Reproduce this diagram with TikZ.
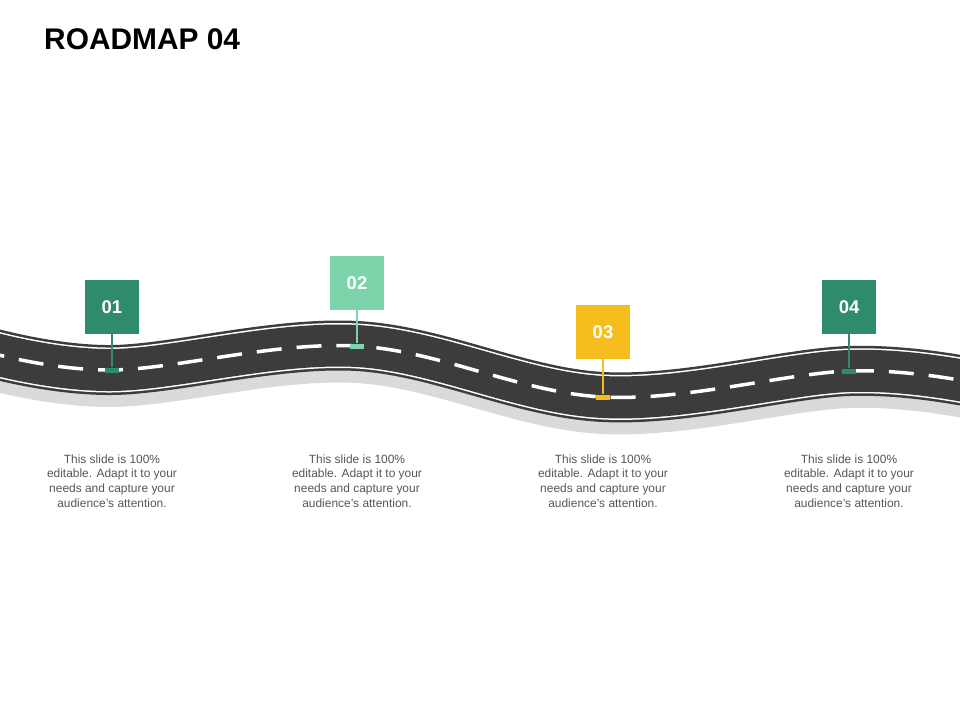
\documentclass[tikz,border=0pt]{standalone}
\usepackage{fontspec}
\setmainfont{Liberation Sans}
\usetikzlibrary{positioning}
\definecolor{darkgreen}{RGB}{46,139,110}
\definecolor{lightgreen}{RGB}{125,211,170}
\definecolor{signyellow}{RGB}{245,190,30}
\definecolor{asphalt}{RGB}{60,60,60}
\definecolor{shadowgray}{RGB}{218,218,218}
\definecolor{textgray}{RGB}{85,85,85}
\begin{document}
\begin{tikzpicture}[x=0.02cm,y=-0.02cm,
  sign/.style={minimum size=1.08cm, inner sep=0pt, text=white, font=\bfseries\fontsize{10.5}{12}\selectfont},
  pole/.style={line width=1.2pt},
  base/.style={minimum width=0.28cm, minimum height=0.1cm, inner sep=0pt},
  caption/.style={text=textgray, align=center, font=\fontsize{6.8}{8.3}\selectfont}]
\useasboundingbox (0,0) rectangle (960,720);
% Constants
\def\roadPath{plot[smooth, tension=0.6] coordinates {(-20,350) (112,370) (357,346) (603,397) (849,371) (980,384)}}

% Title
\node[anchor=west, font=\bfseries\fontsize{17}{20}\selectfont] (title) at (38,39) {ROADMAP 04};

% Road layers
\draw[shadowgray, line width=1.0cm, yshift=-0.24cm] \roadPath;
\draw[asphalt, line width=1.0cm] \roadPath;
\draw[white, line width=0.9cm] \roadPath;
\draw[asphalt, line width=0.84cm] \roadPath;
\draw[white, line width=2pt, dash pattern=on 0.5cm off 0.3cm] \roadPath;

% Milestones
\foreach \n/\x/\y/\ry/\col in {01/112/307/370/darkgreen, 02/357/283/346/lightgreen, 03/603/332/397/signyellow, 04/849/307/371/darkgreen} {
    \coordinate (road-\n) at (\x,\ry);
    \node[base, fill=\col] (base-\n) at (road-\n) {};
    \node[sign, fill=\col] (sign-\n) at (\x,\y) {\n};
    \draw[pole, \col] (sign-\n.south) -- (base-\n);
    \node[caption] (text-\n) at (\x,481) {This slide is 100\%\\editable. Adapt it to your\\needs and capture your\\audience's attention.};
}

\end{tikzpicture}
\end{document}
